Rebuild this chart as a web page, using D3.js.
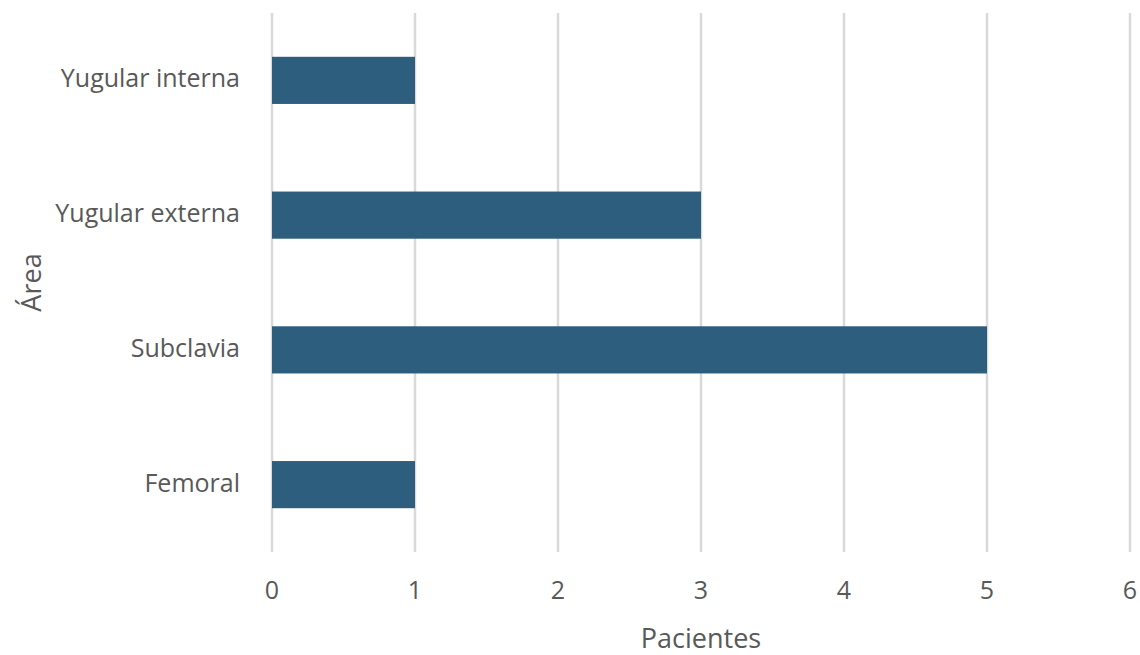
<!DOCTYPE html>
<html>
<head>
<meta charset="utf-8">
<script src="https://cdn.jsdelivr.net/npm/d3@7"></script>
<style>
body { margin: 0; background: #fff; }
text { font-family: "Open Sans", sans-serif; fill: #595959; }
</style>
</head>
<body>
<script>
// data
var categories = ["Yugular interna", "Yugular externa", "Subclavia", "Femoral"];
var values = [1, 3, 5, 1];
var ticks = [0, 1, 2, 3, 4, 5, 6];

var width = 1140, height = 655;
var plotLeft = 272, plotRight = 1130, plotTop = 13, plotBottom = 552;

var svg = d3.select("body").append("svg")
	.attr("width", width)
	.attr("height", height);

var x = d3.scaleLinear().domain([0, 6]).range([plotLeft, plotRight]);
var y = d3.scaleBand().domain(categories).range([plotTop, plotBottom]).paddingInner(0.65).paddingOuter(0.325);

// gridlines
svg.selectAll("line.grid")
	.data(ticks)
	.enter()
	.append("line")
	.attr("class", "grid")
	.attr("x1", function(d) { return x(d); })
	.attr("x2", function(d) { return x(d); })
	.attr("y1", plotTop)
	.attr("y2", plotBottom)
	.attr("stroke", "#d9d9d9")
	.attr("stroke-width", 2.5);

// bars
svg.selectAll("rect")
	.data(values)
	.enter()
	.append("rect")
	.attr("x", x(0))
	.attr("y", function(d, i) { return y(categories[i]); })
	.attr("width", function(d) { return x(d) - x(0); })
	.attr("height", y.bandwidth())
	.attr("fill", "#2e5e7e");

// x tick labels
svg.selectAll("text.xt")
	.data(ticks)
	.enter()
	.append("text")
	.attr("class", "xt")
	.attr("x", function(d) { return x(d); })
	.attr("y", 599)
	.attr("text-anchor", "middle")
	.style("font-size", "25px")
	.text(function(d) { return d; });

// y labels
svg.selectAll("text.yt")
	.data(categories)
	.enter()
	.append("text")
	.attr("class", "yt")
	.attr("x", 240)
	.attr("y", function(d) { return y(d) + y.bandwidth() / 2; })
	.attr("dy", "0.28em")
	.attr("text-anchor", "end")
	.style("font-size", "25px")
	.text(function(d) { return d; });

// axis titles
svg.append("text")
	.attr("x", (plotLeft + plotRight) / 2)
	.attr("y", 648)
	.attr("text-anchor", "middle")
	.style("font-size", "27px")
	.text("Pacientes");

svg.append("text")
	.attr("transform", "translate(41," + (plotTop + plotBottom) / 2 + ") rotate(-90)")
	.attr("text-anchor", "middle")
	.style("font-size", "27px")
	.text("Área");
</script>
</body>
</html>
